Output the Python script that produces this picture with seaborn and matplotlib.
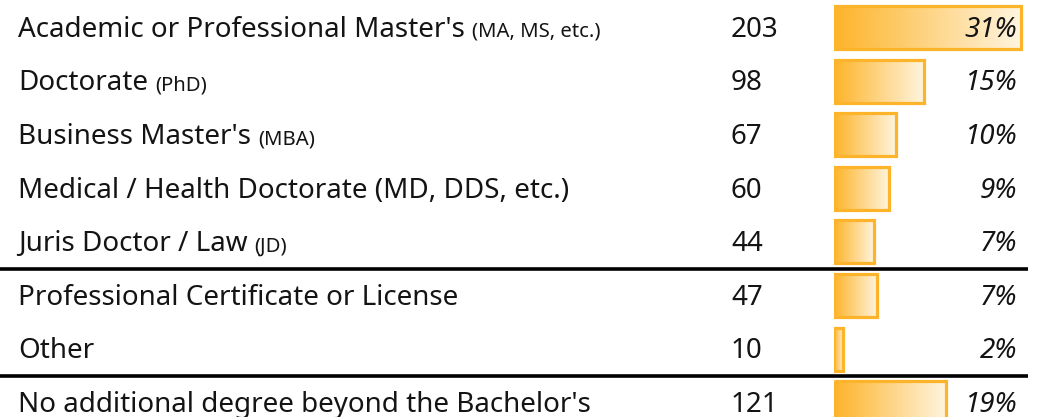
import numpy as np
import pandas as pd
import matplotlib
matplotlib.use("Agg")
import matplotlib.pyplot as plt
import matplotlib.transforms as mtransforms
from matplotlib.colors import LinearSegmentedColormap
import seaborn as sns

labels = [
    "Academic or Professional Master's",
    "Doctorate",
    "Business Master's",
    "Medical / Health Doctorate (MD, DDS, etc.)",
    "Juris Doctor / Law",
    "Professional Certificate or License",
    "Other",
    "No additional degree beyond the Bachelor's",
]
notes = ["(MA, MS, etc.)", "(PhD)", "(MBA)", "", "(JD)", "", "", ""]
counts = [203, 98, 67, 60, 44, 47, 10, 121]
pcts = [31, 15, 10, 9, 7, 7, 2, 19]
separators_after = [4, 6]

ORANGE = "#FDB42A"
CREAM = "#FFF5E0"
W, H = 1044, 417

sns.set_theme(style="white")
plt.rcParams["font.family"] = ["Noto Sans", "DejaVu Sans"]

df = pd.DataFrame({"label": labels, "count": counts, "pct": pcts})

fig = plt.figure(figsize=(W / 100, H / 100), dpi=100)
# bar column only; text columns are placed in figure x / data y
pitch, first = 53.6, 27.5
ax = fig.add_axes([833.5 / W, 0, (W - 833.5) / W, 1])
sns.barplot(data=df, x="count", y="label", orient="h", ax=ax,
            color=ORANGE, edgecolor=ORANGE, linewidth=2.3, width=0.8)
ax.axis("off")

cmap = LinearSegmentedColormap.from_list("grad", [ORANGE, CREAM])
grad = np.linspace(0, 1, 256).reshape(1, -1)
for p in ax.patches:
    x0, y0 = p.get_x(), p.get_y()
    w, h = p.get_width(), p.get_height()
    im = ax.imshow(grad, cmap=cmap, aspect="auto", extent=[x0, x0 + w, y0 + h, y0],
                   zorder=1, interpolation="bicubic")
    im.set_clip_path(p)
    p.set_facecolor("none")
    p.set_zorder(2)
ax.set_xlim(0, (W - 833.5) / 0.926)
ax.set_ylim((H - first) / pitch, -first / pitch)

tr = mtransforms.blended_transform_factory(fig.transFigure, ax.transData)
base = 9.3 / pitch  # baseline sits below row centre
fig.canvas.draw()
renderer = fig.canvas.get_renderer()
for i, (lab, note, c, pc) in enumerate(zip(labels, notes, counts, pcts)):
    t = ax.text(18 / W, i + base, lab, transform=tr, fontsize=20, va="baseline",
                ha="left", color="#141414", clip_on=False)
    if note:
        bb = t.get_window_extent(renderer)
        ax.text((bb.x1 + 7) / W, i + base, note, transform=tr, fontsize=14.6,
                va="baseline", ha="left", color="#141414", clip_on=False)
    ax.text(731 / W, i + base, str(c), transform=tr, fontsize=20, va="baseline",
            ha="left", color="#141414", clip_on=False)
    ax.text(1017 / W, i + base, f"{pc}%", transform=tr, fontsize=20, va="baseline",
            ha="right", color="#141414", style="italic", clip_on=False)

for s in separators_after:
    ax.plot([0, 1028 / W], [s + 0.5, s + 0.5], transform=tr, color="black",
            lw=2.6, solid_capstyle="butt", clip_on=False)

fig.savefig("out.png", dpi=100)
